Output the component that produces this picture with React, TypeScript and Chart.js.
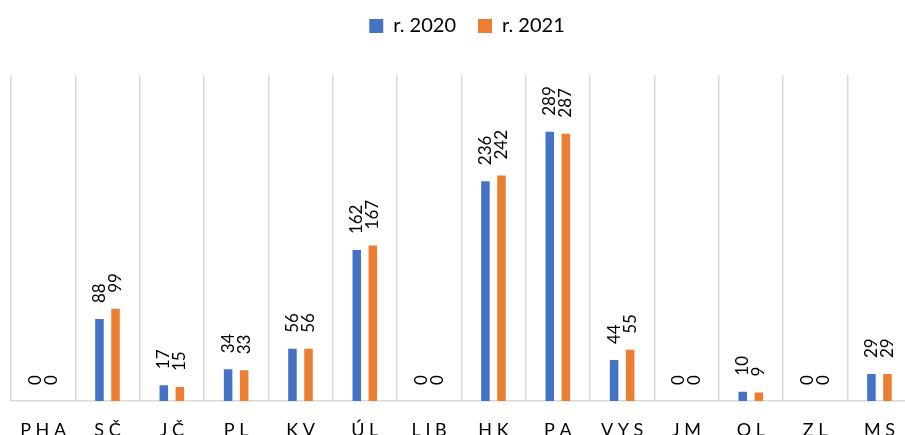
import React, { useEffect, useRef } from "react";
import { Chart, registerables } from "chart.js";

Chart.register(...registerables);

const categories = ["PHA", "SČ", "JČ", "PL", "KV", "ÚL", "LIB", "HK", "PA", "VYS", "JM", "OL", "ZL", "MS"];
const values2020 = [0, 88, 17, 34, 56, 162, 0, 236, 289, 44, 0, 10, 0, 29];
const values2021 = [0, 99, 15, 33, 56, 167, 0, 242, 287, 55, 0, 9, 0, 29];
const seriesLabels = ["r. 2020", "r. 2021"];
const yMin = 0;
const yMax = 350;

const FONT = "Lato";

const legendSpacer = {
  id: "legendSpacer",
  beforeInit(chart: any) {
    const legend = chart.legend;
    if (!legend) return;
    const fit = legend.fit;
    legend.fit = function () {
      fit.bind(legend)();
      this.height += 29;
    };
  },
  afterLayout(chart: any) {
    const legend = chart.legend;
    if (!legend) return;
    legend.left += 5;
    legend.right += 5;
  },
};

const barLabels = {
  id: "barLabels",
  afterDatasetsDraw(chart: any) {
    const ctx = chart.ctx;
    ctx.save();
    ctx.font = `17px ${FONT}`;
    ctx.fillStyle = "#000000";
    ctx.textAlign = "left";
    ctx.textBaseline = "middle";
    chart.data.datasets.forEach((ds: any, di: number) => {
      const meta = chart.getDatasetMeta(di);
      meta.data.forEach((el: any, i: number) => {
        const v = ds.data[i];
        ctx.save();
        ctx.translate(el.x, el.y - 16);
        ctx.rotate(-Math.PI / 2);
        ctx.fillText(String(v), 0, 0);
        ctx.restore();
      });
    });
    ctx.restore();
  },
};

export default function App() {
  const canvasRef = useRef<HTMLCanvasElement | null>(null);

  useEffect(() => {
    const canvas = canvasRef.current;
    if (!canvas) return;
    const chart = new Chart(canvas, {
      type: "bar",
      data: {
        labels: categories,
        datasets: [
          {
            label: seriesLabels[0],
            data: values2020,
            backgroundColor: "#4472C4",
            borderWidth: 0,
            categoryPercentage: 0.5,
            barPercentage: 0.53,
          },
          {
            label: seriesLabels[1],
            data: values2021,
            backgroundColor: "#ED7D31",
            borderWidth: 0,
            categoryPercentage: 0.5,
            barPercentage: 0.53,
          },
        ],
      },
      options: {
        responsive: false,
        animation: false,
        devicePixelRatio: 1,
        layout: { padding: { left: 11, right: 0, top: -6, bottom: 0 } },
        plugins: {
          legend: {
            display: true,
            position: "top",
            align: "center",
            labels: {
              boxWidth: 14,
              boxHeight: 14,
              padding: 22,
              color: "#000000",
              font: { family: FONT, size: 20 },
            },
          },
          tooltip: { enabled: false },
        },
        scales: {
          x: {
            afterFit: (scale: any) => {
              scale.height = 40;
            },
            grid: {
              display: true,
              offset: true,
              color: "#d9d9d9",
              lineWidth: 1.5,
              drawTicks: false,
            },
            border: { display: true, color: "#d9d9d9", width: 1.5 },
            ticks: {
              autoSkip: false,
              maxRotation: 0,
              minRotation: 0,
              padding: 18,
              color: "#000000",
              font: { family: FONT, size: 18 },
              callback: (_v: any, i: number) => categories[i].split("").join(" "),
            },
          },
          y: {
            display: false,
            min: yMin,
            max: yMax,
          },
        },
      },
      plugins: [legendSpacer, barLabels],
    });
    return () => chart.destroy();
  }, []);

  return (
    <div
      style={{
        position: "fixed",
        left: 0,
        top: 0,
        width: 905,
        height: 435,
        overflow: "hidden",
        background: "#ffffff",
      }}
    >
      <canvas ref={canvasRef} width={913} height={441} style={{ display: "block" }} />
    </div>
  );
}
